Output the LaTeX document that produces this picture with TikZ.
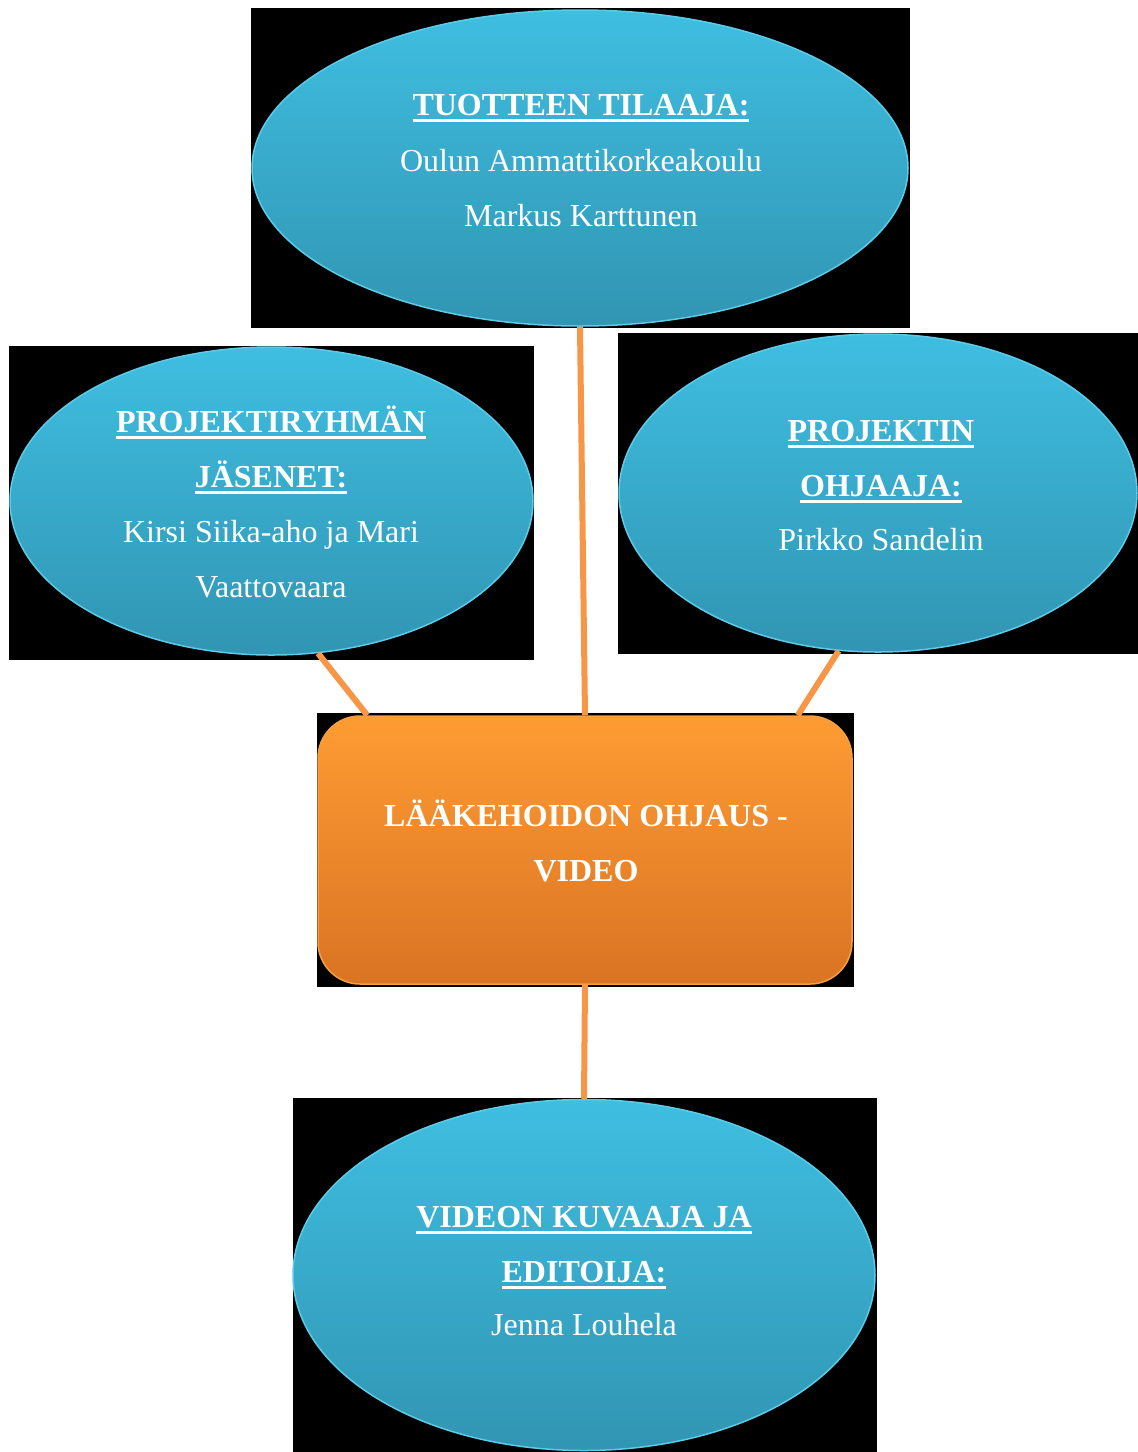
\documentclass[tikz,border=0pt]{standalone}
\usepackage{fontspec}
\setmainfont{Liberation Serif}
\usetikzlibrary{shapes.geometric}
\definecolor{bluetop}{HTML}{3FBEE1}
\definecolor{bluebot}{HTML}{3195B3}
\definecolor{bluerim}{HTML}{5CCBE8}
\definecolor{orangetop}{HTML}{FE9C33}
\definecolor{orangebot}{HTML}{DA7323}
\definecolor{orangerim}{HTML}{F5A040}
\definecolor{conn}{HTML}{F79646}
\newcommand\hdrline[1]{\setbox0=\hbox{\bfseries #1}\rlap{\rule[-6.5pt]{\wd0}{3pt}}\box0}
\tikzset{
  bubble/.style={ellipse, inner sep=0pt, top color=bluetop, bottom color=bluebot, draw=bluerim, line width=1.5pt},
  mainbox/.style={rectangle, rounded corners=42pt, inner sep=0pt, top color=orangetop, bottom color=orangebot, draw=orangerim, line width=1.5pt},
  txt/.style={anchor=base, inner sep=0pt, text=white, font=\fontsize{32}{38}\selectfont},
  btxt/.style={txt, font=\fontsize{32}{38}\selectfont\bfseries},
  link/.style={draw=conn, line width=6pt}
}
\begin{document}
\begin{tikzpicture}[x=1pt, y=-1pt]
\fill[white] (0,0) rectangle (1138,1452);
\useasboundingbox (0,0) rectangle (1138,1452);
% black backing rectangles
\fill[black] (251,8) rectangle (910,328);
\fill[black] (9,346) rectangle (534,660);
\fill[black] (618,333) rectangle (1138,654);
\fill[black] (317,713) rectangle (854,987);
\fill[black] (293,1098) rectangle (877,1452);
% shapes
\node[bubble, minimum width=656pt, minimum height=316pt] (top) at (580,168) {};
\node[bubble, minimum width=523pt, minimum height=308pt] (left) at (271.5,501) {};
\node[bubble, minimum width=518pt, minimum height=318pt] (right) at (878,493) {};
\node[mainbox, minimum width=534pt, minimum height=268pt] (mid) at (585,850) {};
\node[bubble, minimum width=582pt, minimum height=351pt] (bot) at (584,1275) {};
% connectors
\draw[link] (top.south) -- (mid.north);
\draw[link] (left.-73) -- ([xshift=50pt]mid.north west);
\draw[link] (right.-104) -- ([xshift=-55pt]mid.north east);
\draw[link] (mid.south) -- (bot.north);
% texts
\node[txt] (t1) at (581,115) {\hdrline{TUOTTEEN TILAAJA:}};
\node[txt] (t2) at (581,171) {Oulun Ammattikorkeakoulu};
\node[txt] (t3) at (581,226) {Markus Karttunen};
\node[txt] (l1) at (271,432) {\hdrline{PROJEKTIRYHMÄN}};
\node[txt] (l2) at (271,487) {\hdrline{JÄSENET:}};
\node[txt] (l3) at (271,542) {Kirsi Siika-aho ja Mari};
\node[txt] (l4) at (271,597) {Vaattovaara};
\node[txt] (r1) at (881,441) {\hdrline{PROJEKTIN}};
\node[txt] (r2) at (881,496) {\hdrline{OHJAAJA:}};
\node[txt] (r3) at (881,550) {Pirkko Sandelin};
\node[btxt] (m1) at (586,826) {LÄÄKEHOIDON OHJAUS -};
\node[btxt] (m2) at (586,881) {VIDEO};
\node[txt] (b1) at (584,1227) {\hdrline{VIDEON KUVAAJA JA}};
\node[txt] (b2) at (584,1282) {\hdrline{EDITOIJA:}};
\node[txt] (b3) at (584,1335) {Jenna Louhela};
\end{tikzpicture}
\end{document}
